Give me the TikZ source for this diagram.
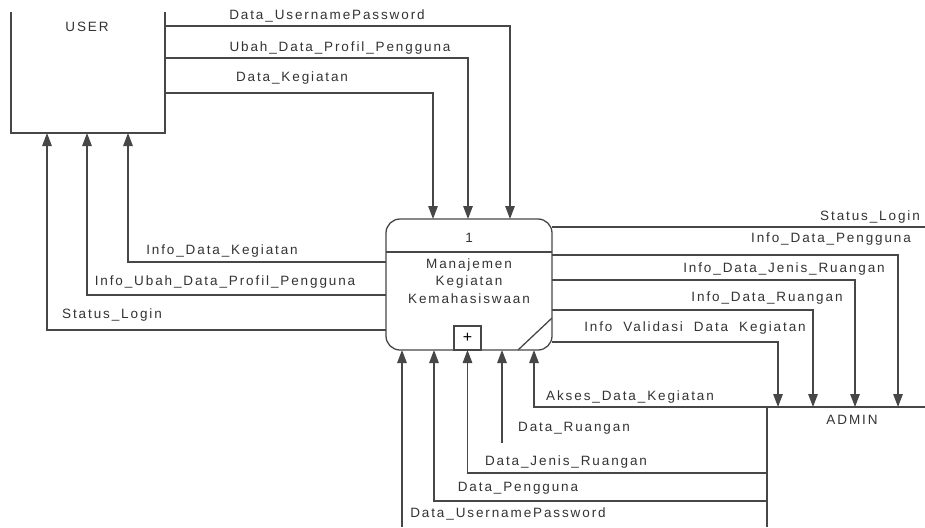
\documentclass[tikz,border=0pt]{standalone}
\usepackage{fontspec}
\setmainfont{Liberation Sans}[LetterSpace=14]
\usetikzlibrary{arrows.meta}
\begin{document}
\begin{tikzpicture}[x=1pt,y=-1pt,
  font=\fontsize{13.5}{15}\selectfont,
  wire/.style={draw=black!72, line width=1.3pt},
  flow/.style={wire, -{Triangle[length=13pt,width=9.5pt]}},
  lbl/.style={inner sep=0pt, text=black!80},
  extent/.style={inner sep=0pt, outer sep=0pt}]
\useasboundingbox[fill=white] (0,0) rectangle (925,527);

% external entities and the process
\node[extent, minimum width=154pt, minimum height=121pt] (user) at (88,72.5) {};
\draw[wire] (user.north west) -- (user.south west) -- (user.south east) -- (user.north east);
\node[lbl] (usertxt) at (87,27) {USER};

\node[extent, minimum width=158pt, minimum height=120pt] (admin) at (846,467) {};
\draw[wire] (admin.south west) -- (admin.north west) -- (admin.north east);
\node[lbl] (admintxt) at (852,420) {ADMIN};

\node[extent, wire, rounded corners=14pt, minimum width=166pt, minimum height=131pt] (proc) at (469,284.5) {};
\draw[wire] (proc.west |- 0,252) -- (proc.east |- 0,252);
\node[lbl] (procid) at (469,238) {1};
\node[lbl, align=center, font=\fontsize{13.5}{17.5}\selectfont] (procname) at (469,281)
  {Manajemen\\Kegiatan\\Kemahasiswaan};
\node[extent, wire, minimum width=27pt, minimum height=24pt, anchor=south,
  font=\fontsize{16}{16}\selectfont] (sub) at (proc.south -| 467.5,0) {+};
\draw[wire] (proc.south -| 518,0) -- (proc.east |- 0,318);

% USER -> process
\draw[flow] (user.east |- 0,26) -| (proc.north -| 510,0);
\draw[flow] (user.east |- 0,58) -| (proc.north -| 468,0);
\draw[flow] (user.east |- 0,93) -| (proc.north -| 433,0);
\node[lbl] (l1) at (327,16) {Data\_UsernamePassword};
\node[lbl] (l2) at (340,48) {Ubah\_Data\_Profil\_Pengguna};
\node[lbl] (l3) at (292,78) {Data\_Kegiatan};

% process -> USER
\draw[flow] (proc.west |- 0,262) -| (user.south -| 128,0);
\draw[flow] (proc.west |- 0,295) -| (user.south -| 87,0);
\draw[flow] (proc.west |- 0,330) -| (user.south -| 47,0);
\node[lbl] (l4) at (222,251) {Info\_Data\_Kegiatan};
\node[lbl] (l5) at (225,282) {Info\_Ubah\_Data\_Profil\_Pengguna};
\node[lbl] (l6) at (112,315) {Status\_Login};

% process -> ADMIN
\coordinate (edgeR) at (925,227);
\draw[wire] (proc.east |- edgeR) -- (edgeR);
\draw[flow] (proc.east |- 0,255) -| (admin.north -| 898,0);
\draw[flow] (proc.east |- 0,280) -| (admin.north -| 855,0);
\draw[flow] (proc.east |- 0,310) -| (admin.north -| 813,0);
\draw[flow] (proc.east |- 0,342) -| (admin.north -| 778,0);
\node[lbl] (l7) at (870,217) {Status\_Login};
\node[lbl] (l8) at (831,239) {Info\_Data\_Pengguna};
\node[lbl] (l9) at (784,269) {Info\_Data\_Jenis\_Ruangan};
\node[lbl] (l10) at (767,298) {Info\_Data\_Ruangan};
\node[lbl] (l11) at (695,328) {Info\hspace{11pt}Validasi\hspace{11pt}Data\hspace{11pt}Kegiatan};

% ADMIN -> process
\coordinate (ruangEnd) at (502,443);
\coordinate (edgeB) at (402,527);
\draw[flow] (admin.north west) -| (proc.south -| 534,0);
\draw[flow] (ruangEnd) -- (proc.south -| ruangEnd);
\draw[flow] (admin.west |- 0,473) -| (sub.south);
\draw[flow] (admin.west |- 0,501) -| (proc.south -| 434,0);
\draw[flow] (edgeB) -- (proc.south -| edgeB);
\node[lbl] (l12) at (630,397) {Akses\_Data\_Kegiatan};
\node[lbl] (l13) at (574,428) {Data\_Ruangan};
\node[lbl] (l14) at (566,462) {Data\_Jenis\_Ruangan};
\node[lbl] (l15) at (518,488) {Data\_Pengguna};
\node[lbl] (l16) at (508,514) {Data\_UsernamePassword};
\end{tikzpicture}
\end{document}
